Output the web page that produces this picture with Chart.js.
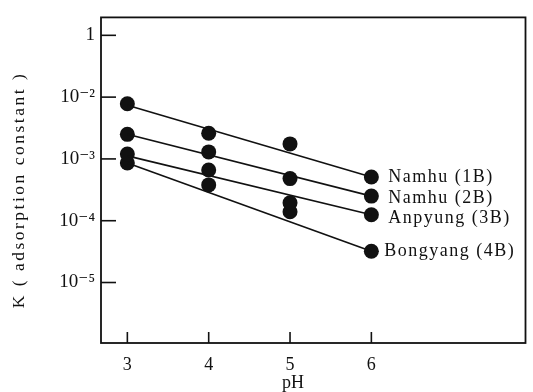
<!DOCTYPE html>
<html>
<head>
<meta charset="utf-8">
<script src="https://cdn.jsdelivr.net/npm/chart.js@4/dist/chart.umd.min.js"></script>
<style>
  html, body { margin: 0; padding: 0; background: #fff; }
  #wrap { width: 533px; height: 392px; position: relative; }
</style>
</head>
<body>
<div id="wrap"><canvas id="c" width="533" height="392"></canvas></div>
<script>
// ---- data ----
const phValues = [3, 4, 5, 6];
const seriesNames = ['Namhu (1B)', 'Namhu (2B)', 'Anpyung (3B)', 'Bongyang (4B)'];
const namhu1B = [7.8e-3, 2.6e-3, 1.75e-3, 5.1e-4];
const namhu2B = [2.5e-3, 1.3e-3, 4.8e-4, 2.5e-4];
const anpyung3B = [1.2e-3, 6.6e-4, 1.95e-4, 1.25e-4];
const bongyang4B = [8.6e-4, 3.8e-4, 1.4e-4, 3.2e-5];
// fitted straight lines (values at pH 3 and pH 6)
const fitPh = [3, 6];
const fit1B = [7.4e-3, 5.1e-4];
const fit2B = [2.5e-3, 2.5e-4];
const fit3B = [1.12e-3, 1.25e-4];
const fit4B = [8.6e-4, 3.2e-5];
// axis ticks
const xTickValues = [3, 4, 5, 6];
const yTickValues = [1e-1, 1e-2, 1e-3, 1e-4, 1e-5];
const yTickLabels = ['1', '10\u207B\u00B2', '10\u207B\u00B3', '10\u207B\u2074', '10\u207B\u2075'];
const xTitle = 'pH';
const yTitle = 'K ( adsorption constant )';

const pointSeries = [namhu1B, namhu2B, anpyung3B, bongyang4B];
const fitSeries = [fit1B, fit2B, fit3B, fit4B];

const SERIF = '"Liberation Serif", "DejaVu Serif", serif';

const datasets = [];
fitSeries.forEach((arr, i) => {
  datasets.push({
    label: seriesNames[i] + ' fit',
    data: fitPh.map((x, j) => ({ x: x, y: arr[j] })),
    showLine: true,
    borderColor: '#111',
    borderWidth: 1.6,
    pointRadius: 0,
    pointHoverRadius: 0,
    fill: false
  });
});
pointSeries.forEach((arr, i) => {
  datasets.push({
    label: seriesNames[i],
    data: phValues.map((x, j) => ({ x: x, y: arr[j] })),
    showLine: false,
    pointRadius: 7.5,
    pointBackgroundColor: '#111',
    pointBorderColor: '#111',
    pointBorderWidth: 0
  });
});

const framePlugin = {
  id: 'frame',
  afterDraw(chart) {
    const ctx = chart.ctx;
    const a = chart.chartArea;
    const xs = chart.scales.x, ys = chart.scales.y;
    ctx.save();
    ctx.strokeStyle = '#111';
    ctx.lineWidth = 1.8;
    ctx.strokeRect(a.left, a.top, a.right - a.left, a.bottom - a.top);
    // inward tick marks
    ctx.lineWidth = 1.6;
    yTickValues.forEach(v => {
      const py = ys.getPixelForValue(v);
      ctx.beginPath(); ctx.moveTo(a.left, py); ctx.lineTo(a.left + 15, py); ctx.stroke();
    });
    xTickValues.forEach(v => {
      const px = xs.getPixelForValue(v);
      ctx.beginPath(); ctx.moveTo(px, a.bottom); ctx.lineTo(px, a.bottom - 11); ctx.stroke();
    });
    // series labels next to last point
    ctx.fillStyle = '#111';
    ctx.font = '18px ' + SERIF;
    ctx.textBaseline = 'middle';
    ctx.textAlign = 'left';
    try { ctx.letterSpacing = '1.5px'; } catch (e) {}
    const dy = [0, 2, 4, 0];
    const dx = [17, 17, 17, 13];
    pointSeries.forEach((arr, i) => {
      const last = arr.length - 1;
      const px = xs.getPixelForValue(phValues[last]);
      const py = ys.getPixelForValue(arr[last]);
      ctx.fillText(seriesNames[i], px + dx[i], py + dy[i]);
    });
    // axis titles
    ctx.font = '18px ' + SERIF;
    try { ctx.letterSpacing = '0px'; } catch (e) {}
    ctx.textAlign = 'center';
    ctx.fillText(xTitle, 293, 383);
    ctx.font = '17.5px ' + SERIF;
    try { ctx.letterSpacing = '2.5px'; } catch (e) {}
    ctx.translate(19, 190);
    ctx.rotate(-Math.PI / 2);
    ctx.fillText(yTitle, 0, 0);
    ctx.restore();
  }
};

new Chart(document.getElementById('c'), {
  type: 'scatter',
  data: { datasets: datasets },
  options: {
    responsive: false,
    animation: false,
    devicePixelRatio: 1,
    layout: { padding: { top: 16, right: 5, left: 0, bottom: 0 } },
    plugins: { legend: { display: false }, tooltip: { enabled: false } },
    scales: {
      x: {
        type: 'linear',
        min: 2.676,
        max: 7.895,
        grid: { display: false, drawTicks: false },
        border: { display: false },
        afterBuildTicks(s) { s.ticks = xTickValues.map(v => ({ value: v })); },
        afterFit(s) { s.height = 49; },
        ticks: {
          padding: 11,
          color: '#111',
          font: { family: SERIF, size: 18 },
          callback: v => String(v)
        }
      },
      y: {
        type: 'logarithmic',
        min: 1.05e-6,
        max: 0.195,
        grid: { display: false, drawTicks: false },
        border: { display: false },
        afterBuildTicks(s) { s.ticks = yTickValues.slice().reverse().map(v => ({ value: v })); },
        afterFit(s) { s.width = 101; },
        ticks: {
          padding: 6,
          color: '#111',
          font: { family: SERIF, size: 19 },
          callback: function (v) {
            const k = yTickValues.findIndex(t => Math.abs(Math.log10(t) - Math.log10(v)) < 1e-6);
            return k >= 0 ? yTickLabels[k] : '';
          }
        }
      }
    }
  },
  plugins: [framePlugin]
});
</script>
</body>
</html>
